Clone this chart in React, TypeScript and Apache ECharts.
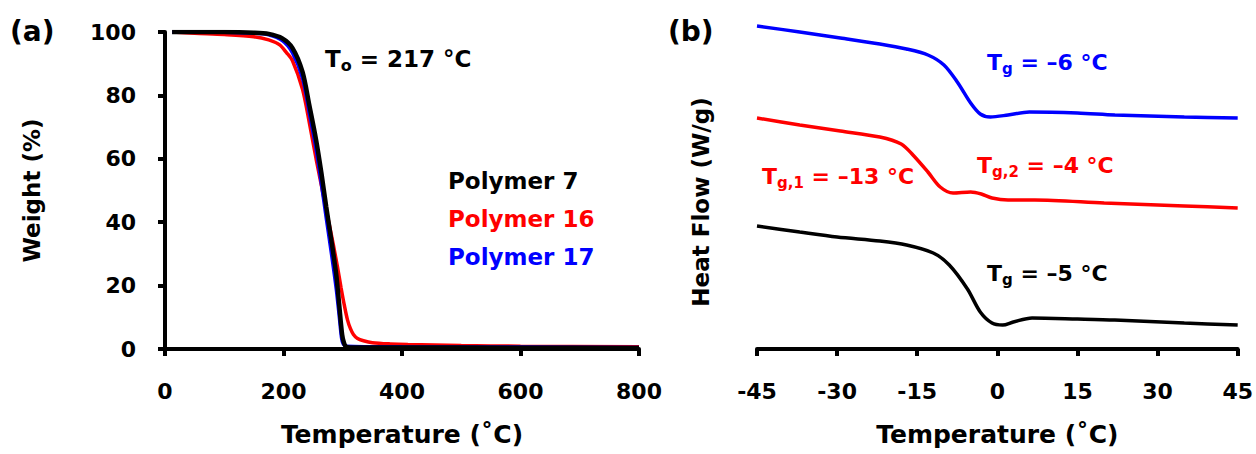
import React, { useEffect, useRef } from "react";
import * as echarts from "echarts";

// ---------- Panel (a): TGA data (temperature °C, weight %) ----------
const polymer7Tga: [number, number][] = [
  [12, 100], [50, 100], [100, 100], [150, 99.8], [175, 99.4], [198, 98], [215, 95],
  [232, 87.5], [243.5, 77], [255, 66], [264, 55.5], [272, 45], [281, 34], [289, 23.5],
  [294, 14], [299, 4.5], [302, 2], [306, 0.7], [320, 0.5], [400, 0.5], [600, 0.4], [800, 0.3],
];
const polymer16Tga: [number, number][] = [
  [12, 100], [50, 99.6], [100, 99.2], [150, 98.5], [175, 97.5], [193, 96], [205, 93.5],
  [215, 91], [232, 82], [243.5, 71.5], [255, 60], [263, 52.5], [270, 46], [277, 39.5],
  [284, 33], [291, 26], [297, 19.5], [303, 13.5], [308, 9.2], [313, 6.4], [318, 4.6],
  [325, 3.3], [335, 2.6], [350, 2], [380, 1.6], [410, 1.4], [500, 1.1], [600, 0.9], [800, 0.7],
];
const polymer17Tga: [number, number][] = [
  [12, 100], [50, 100], [100, 99.9], [150, 99.6], [175, 99.1], [198, 97.3], [215, 93.5],
  [232, 85.5], [243.5, 74.5], [255, 63], [264, 52], [272, 41.5], [281, 30], [289, 19],
  [294, 10.5], [298, 3.5], [301, 1.5], [306, 0.9], [400, 0.7], [600, 0.6], [800, 0.5],
];

// ---------- Panel (b): DSC data (temperature °C, heat flow, arbitrary offset units) ----------
const polymer17Dsc: [number, number][] = [
  [-45, 323], [-37, 317], [-29.4, 311], [-22, 305], [-17, 300], [-13, 294], [-10, 284],
  [-7.5, 267], [-5, 246], [-3.2, 235], [-1.3, 232], [2, 234], [6, 237], [15, 236],
  [22, 234], [35, 232], [45, 231],
];
const polymer16Dsc: [number, number][] = [
  [-45, 231], [-37, 224], [-29.4, 218], [-22, 212], [-18, 205], [-15.8, 194], [-13, 177],
  [-10.7, 162], [-8.3, 156], [-5, 157], [-3, 155], [-1, 151], [2, 149], [7, 149],
  [20, 146], [35, 143], [45, 141],
];
const polymer7Dsc: [number, number][] = [
  [-45, 123], [-37, 117], [-30, 112], [-22, 108], [-17, 104], [-12, 96], [-9, 84],
  [-5.6, 60], [-3.2, 37], [-1, 26], [1, 24], [3, 27], [6.5, 31], [15, 30], [22, 29],
  [35, 26], [45, 24],
];

const tgaXTicks = { min: 0, max: 800, interval: 200 };
const tgaYTicks = { min: 0, max: 100, interval: 20 };
const dscXTicks = { min: -45, max: 45, interval: 15 };

const legendNames = ["Polymer 7", "Polymer 16", "Polymer 17"];
const colors = ["#000000", "#ff0000", "#0000ff"];

const FONT = "DejaVu Sans";

function richLabel(main: string, sub: string, rest: string, size: number) {
  return {
    text: `{m|${main}}{s|${sub}}{m|${rest}}`,
    rich: {
      m: { fontSize: size, fontWeight: "bold", fontFamily: FONT },
      s: { fontSize: Math.round(size * 0.68), fontWeight: "bold", fontFamily: FONT, padding: [13, 0, 0, 0] },
    },
  };
}

export default function App() {
  const ref = useRef<HTMLDivElement>(null);

  useEffect(() => {
    if (!ref.current) return;
    const chart = echarts.init(ref.current, undefined, { renderer: "svg" });

    const axisLine = { show: true, lineStyle: { color: "#000", width: 4 } };
    const axisTick = { show: true, inside: false, length: 7, lineStyle: { color: "#000", width: 4 } };
    const axisLabel = { color: "#000", fontFamily: FONT, fontWeight: "bold" as const, fontSize: 22 };
    const xNameStyle = { color: "#000", fontFamily: FONT, fontWeight: "bold" as const, fontSize: 25 };
    const yNameStyle = { color: "#000", fontFamily: FONT, fontWeight: "bold" as const, fontSize: 23 };

    const lineSeries = (name: string, data: [number, number][], color: string, width: number, idx: number, z: number) => ({
      name,
      type: "line" as const,
      data,
      xAxisIndex: idx,
      yAxisIndex: idx,
      showSymbol: false,
      smooth: 0.3,
      lineStyle: { color, width },
      itemStyle: { color },
      z,
    });

    const annot = (left: number, top: number, color: string, main: string, sub: string, rest: string, size: number) => ({
      type: "text" as const,
      left,
      top,
      style: { ...richLabel(main, sub, rest, size), fill: color, font: `bold ${size}px ${FONT}` },
    });

    const plainText = (left: number, top: number, text: string, color: string, size: number) => ({
      type: "text" as const,
      left,
      top,
      style: { text, fill: color, font: `bold ${size}px ${FONT}` },
    });

    chart.setOption({
      animation: false,
      backgroundColor: "#ffffff",
      grid: [
        { left: 165, top: 32, width: 474, height: 317, containLabel: false },
        { left: 757, top: 19, width: 481, height: 330, containLabel: false },
      ],
      xAxis: [
        {
          type: "value",
          gridIndex: 0,
          ...tgaXTicks,
          axisLine,
          axisTick,
          splitLine: { show: false },
          axisLabel: { ...axisLabel, margin: 31 },
          name: "Temperature (˚C)",
          nameLocation: "middle",
          nameGap: 73,
          nameTextStyle: xNameStyle,
        },
        {
          type: "value",
          gridIndex: 1,
          ...dscXTicks,
          axisLine,
          axisTick,
          splitLine: { show: false },
          axisLabel: { ...axisLabel, margin: 31 },
          name: "Temperature (˚C)",
          nameLocation: "middle",
          nameGap: 73,
          nameTextStyle: xNameStyle,
        },
      ],
      yAxis: [
        {
          type: "value",
          gridIndex: 0,
          ...tgaYTicks,
          axisLine,
          axisTick,
          splitLine: { show: false },
          axisLabel: { ...axisLabel, margin: 29 },
          name: "Weight (%)",
          nameLocation: "middle",
          nameGap: 122,
          nameRotate: 90,
          nameTextStyle: yNameStyle,
        },
        {
          type: "value",
          gridIndex: 1,
          min: 0,
          max: 330,
          show: false,
          splitLine: { show: false },
        },
      ],
      series: [
        lineSeries(legendNames[1], polymer16Tga, colors[1], 3.5, 0, 2),
        lineSeries(legendNames[2], polymer17Tga, colors[2], 3.5, 0, 3),
        lineSeries(legendNames[0], polymer7Tga, colors[0], 4.5, 0, 4),
        lineSeries(legendNames[2] + " DSC", polymer17Dsc, colors[2], 3.5, 1, 2),
        lineSeries(legendNames[1] + " DSC", polymer16Dsc, colors[1], 3.5, 1, 2),
        lineSeries(legendNames[0] + " DSC", polymer7Dsc, colors[0], 3.5, 1, 2),
      ],
      graphic: [
        plainText(10, 17, "(a)", "#000", 28),
        plainText(668, 17, "(b)", "#000", 28),
        annot(325, 47, "#000", "T", "o", " = 217 °C", 23),
        plainText(448, 169, legendNames[0], colors[0], 23),
        plainText(448, 207, legendNames[1], colors[1], 23),
        plainText(448, 245, legendNames[2], colors[2], 23),
        annot(987, 51, colors[2], "T", "g", " = –6 °C", 22),
        annot(762, 165, colors[1], "T", "g,1", " = –13 °C", 22),
        annot(977, 154, colors[1], "T", "g,2", " = –4 °C", 22),
        annot(987, 262, colors[0], "T", "g", " = –5 °C", 22),
        {
          type: "text",
          x: 701,
          y: 202,
          rotation: Math.PI / 2,
          style: {
            text: "Heat Flow (W/g)",
            fill: "#000",
            font: `bold 23px ${FONT}`,
            align: "center",
            verticalAlign: "middle",
            textAlign: "center",
            textVerticalAlign: "middle",
          },
        },
      ],
    });

    return () => chart.dispose();
  }, []);

  return (
    <div
      ref={ref}
      style={{ position: "absolute", left: 0, top: 0, width: 1256, height: 454, background: "#fff" }}
    />
  );
}
